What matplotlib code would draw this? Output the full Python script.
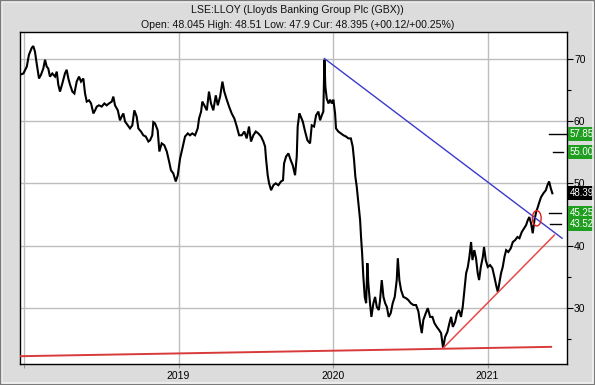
import matplotlib
matplotlib.use("Agg")
import matplotlib.pyplot as plt
from matplotlib.patches import Ellipse, Rectangle
from matplotlib.ticker import MultipleLocator, FixedLocator

plt.rcParams['font.family'] = ['Liberation Sans', 'DejaVu Sans']

title = "LSE:LLOY (Lloyds Banking Group Plc (GBX))"
subtitle = "Open: 48.045 High: 48.51 Low: 47.9 Cur: 48.395 (+00.12/+00.25%)"

# decimal year of each reading
years = [
    2017.974, 2017.996, 2018.018, 2018.032, 2018.050, 2018.060, 2018.071, 2018.082, 2018.097, 2018.110,
    2018.125, 2018.136, 2018.147, 2018.157, 2018.168, 2018.183, 2018.201, 2018.212, 2018.222, 2018.233,
    2018.248, 2018.265, 2018.276, 2018.287, 2018.298, 2018.313, 2018.326, 2018.341, 2018.356, 2018.369,
    2018.384, 2018.395, 2018.406, 2018.421, 2018.434, 2018.449, 2018.460, 2018.471, 2018.485, 2018.503,
    2018.520, 2018.535, 2018.550, 2018.568, 2018.578, 2018.589, 2018.607, 2018.621, 2018.632, 2018.643,
    2018.654, 2018.671, 2018.686, 2018.701, 2018.714, 2018.729, 2018.740, 2018.757, 2018.772, 2018.788,
    2018.805, 2018.816, 2018.830, 2018.837, 2018.848, 2018.865, 2018.876, 2018.891, 2018.908, 2018.924,
    2018.939, 2018.951, 2018.966, 2018.982, 2018.995, 2019.010, 2019.025, 2019.042, 2019.060, 2019.074,
    2019.089, 2019.107, 2019.124, 2019.133, 2019.146, 2019.154, 2019.167, 2019.183, 2019.197, 2019.210,
    2019.225, 2019.241, 2019.254, 2019.269, 2019.284, 2019.296, 2019.312, 2019.327, 2019.344, 2019.361,
    2019.377, 2019.392, 2019.409, 2019.426, 2019.441, 2019.456, 2019.469, 2019.484, 2019.500, 2019.516,
    2019.534, 2019.549, 2019.560, 2019.566, 2019.577, 2019.586, 2019.599, 2019.614, 2019.629, 2019.646,
    2019.663, 2019.676, 2019.683, 2019.696, 2019.711, 2019.726, 2019.739, 2019.754, 2019.765, 2019.771,
    2019.782, 2019.791, 2019.804, 2019.819, 2019.834, 2019.851, 2019.862, 2019.877, 2019.890, 2019.905,
    2019.916, 2019.927, 2019.937, 2019.944, 2019.950, 2019.959, 2019.970, 2019.981, 2019.992, 2020.002,
    2020.013, 2020.019, 2020.034, 2020.050, 2020.067, 2020.084, 2020.099, 2020.115, 2020.127, 2020.136,
    2020.144, 2020.153, 2020.164, 2020.175, 2020.181, 2020.188, 2020.196, 2020.205, 2020.214, 2020.222,
    2020.228, 2020.239, 2020.248, 2020.261, 2020.272, 2020.283, 2020.296, 2020.304, 2020.315, 2020.326,
    2020.337, 2020.348, 2020.360, 2020.373, 2020.386, 2020.399, 2020.412, 2020.419, 2020.429, 2020.440,
    2020.455, 2020.472, 2020.487, 2020.503, 2020.520, 2020.537, 2020.552, 2020.563, 2020.574, 2020.584,
    2020.600, 2020.613, 2020.628, 2020.643, 2020.656, 2020.671, 2020.686, 2020.699, 2020.712, 2020.725,
    2020.740, 2020.753, 2020.764, 2020.775, 2020.790, 2020.802, 2020.815, 2020.828, 2020.839, 2020.850,
    2020.861, 2020.872, 2020.882, 2020.893, 2020.902, 2020.914, 2020.925, 2020.936, 2020.945, 2020.956,
    2020.969, 2020.977, 2020.988, 2021.001, 2021.016, 2021.031, 2021.044, 2021.055, 2021.066, 2021.076,
    2021.087, 2021.098, 2021.109, 2021.120, 2021.134, 2021.150, 2021.163, 2021.178, 2021.193, 2021.206,
    2021.221, 2021.236, 2021.249, 2021.260, 2021.270, 2021.281, 2021.292, 2021.303, 2021.314, 2021.325,
    2021.335, 2021.346, 2021.361, 2021.377, 2021.387, 2021.398, 2021.409, 2021.419,
]

prices = [
    67.4, 67.6, 68.7, 70.6, 71.7, 72.0, 71.1, 69.2, 66.8, 67.4,
    68.4, 69.8, 68.7, 68.4, 67.1, 67.6, 67.1, 67.9, 65.8, 64.7,
    66.0, 67.6, 68.2, 66.8, 65.8, 64.7, 64.4, 66.3, 67.1, 66.3,
    66.8, 64.4, 63.1, 63.3, 62.8, 61.2, 61.7, 62.3, 62.5, 62.3,
    62.8, 62.5, 62.8, 63.1, 63.9, 62.5, 61.7, 60.1, 60.7, 61.2,
    59.9, 59.3, 58.8, 59.3, 61.7, 60.7, 58.8, 58.3, 57.7, 57.5,
    56.7, 56.9, 57.7, 59.8, 59.6, 58.5, 55.1, 56.4, 56.1, 55.1,
    53.5, 52.1, 51.6, 50.3, 51.3, 54.0, 55.6, 57.5, 58.0, 57.7,
    58.0, 57.7, 58.8, 60.4, 61.5, 63.1, 62.5, 61.7, 64.7, 62.8,
    61.7, 64.1, 62.5, 63.9, 66.3, 64.7, 63.4, 62.3, 61.2, 60.4,
    59.1, 57.7, 57.7, 58.3, 57.2, 59.1, 56.7, 57.7, 58.3, 58.0,
    57.5, 56.7, 55.9, 54.0, 51.3, 50.0, 48.9, 49.7, 50.0, 49.7,
    50.3, 50.5, 53.2, 54.3, 54.8, 53.7, 52.9, 51.3, 54.3, 59.1,
    61.2, 60.7, 59.9, 58.3, 56.9, 56.4, 59.3, 59.1, 60.9, 61.5,
    60.1, 60.9, 61.5, 69.8, 65.5, 63.6, 62.8, 63.4, 62.8, 63.4,
    61.2, 58.8, 58.3, 58.0, 57.7, 57.5, 57.2, 57.2, 55.9, 53.7,
    51.1, 49.5, 46.8, 44.1, 41.4, 38.8, 35.0, 31.8, 30.8, 37.2,
    34.0, 30.8, 28.6, 30.8, 31.8, 30.2, 29.7, 31.3, 34.5, 31.8,
    30.8, 30.2, 28.6, 29.2, 30.8, 31.8, 34.5, 38.0, 34.5, 32.9,
    31.8, 31.6, 31.3, 30.8, 30.5, 30.5, 29.5, 27.6, 26.0, 28.1,
    29.2, 30.0, 28.6, 28.6, 27.6, 27.0, 26.5, 26.0, 23.6, 25.4,
    26.2, 27.6, 28.6, 27.0, 27.8, 29.2, 29.7, 28.6, 30.2, 32.9,
    35.6, 36.6, 38.2, 40.6, 37.7, 39.3, 38.0, 35.6, 34.5, 36.6,
    38.2, 39.8, 37.7, 36.6, 36.9, 36.4, 35.0, 33.7, 32.6, 34.0,
    35.6, 36.6, 38.2, 39.3, 39.0, 39.6, 40.6, 40.9, 41.4, 41.2,
    42.2, 42.8, 43.3, 44.1, 44.6, 43.6, 42.0, 44.1, 45.4, 46.2,
    47.0, 47.8, 48.4, 48.9, 49.7, 50.3, 49.2, 48.4,
]

# trend lines: (start year, start value, end year, end value)
blue_line = (2019.944, 70.0, 2021.482, 41.2)
red_base = (2017.971, 22.3, 2021.411, 23.8)
red_rise = (2020.712, 23.6, 2021.432, 41.7)

target_levels = [57.85, 55.00, 45.25, 43.52]
target_labels = ["57.85", "55.00", "45.25", "43.52"]
target_starts = [2021.40, 2021.422, 2021.40, 2021.406]
target_ends = [2021.514, 2021.486, 2021.477, 2021.477]
current_price = 48.39
circle_center = (2021.318, 44.4)

fig = plt.figure(figsize=(5.95, 3.85), dpi=100)
fig.patch.set_facecolor('#dcdcdc')

# bevelled frame
fig.patches.append(Rectangle((0, 0), 1, 1, transform=fig.transFigure,
                             fill=False, ec='#7a7a7a', lw=2.5, zorder=0))
fig.patches.append(Rectangle((0.004, 0.006), 0.992, 0.988, transform=fig.transFigure,
                             fill=False, ec='#f2f2f2', lw=1.2, zorder=0))

ax = fig.add_axes([0.0328, 0.0545, 0.9202, 0.8624])
ax.set_facecolor('white')
ax.set_xlim(2017.971, 2021.514)
ax.set_ylim(21.05, 74.25)

for s in ax.spines.values():
    s.set_color('black')
    s.set_linewidth(1.0)

ax.yaxis.tick_right()
ax.yaxis.set_major_locator(MultipleLocator(10))
ax.yaxis.set_minor_locator(FixedLocator([25, 35, 45, 55, 65]))
ax.tick_params(axis='y', which='major', length=4, width=0.8, labelsize=7.5, pad=1)
ax.tick_params(axis='y', which='minor', length=3, width=0.8)
ax.xaxis.set_major_locator(FixedLocator([2018, 2019, 2020, 2021]))
ax.set_xticklabels(['', '2019', '2020', '2021'])
ax.tick_params(axis='x', length=3, width=0.8, labelsize=7.5, pad=2, color='#999999')
ax.grid(True, which='major', color='#bdbdbd', lw=1.0)
ax.set_axisbelow(True)

ax.plot(years, prices, color='black', lw=1.5, zorder=3, solid_joinstyle='miter')

ax.plot([blue_line[0], blue_line[2]], [blue_line[1], blue_line[3]], color='#3a3acc', lw=1.0, zorder=4)
ax.plot([red_base[0], red_base[2]], [red_base[1], red_base[3]], color='#d83a3a', lw=1.4, zorder=4)
ax.plot([red_rise[0], red_rise[2]], [red_rise[1], red_rise[3]], color='#e84848', lw=1.1, zorder=4)

ax.add_patch(Ellipse(circle_center, 0.057, 2.45, fill=False, ec='#e02020', lw=1.0, zorder=5))

for lvl, lab, x0, x1 in zip(target_levels, target_labels, target_starts, target_ends):
    ax.plot([x0, x1], [lvl, lvl], color='black', lw=1.0, zorder=5, clip_on=False)
    ax.annotate(lab, xy=(1.0, lvl), xycoords=('axes fraction', 'data'),
                xytext=(2, 0), textcoords='offset points', ha='left', va='center',
                color='white', fontsize=7.0,
                bbox=dict(boxstyle='square,pad=0.2', fc='#1f9e1f', ec='none'),
                annotation_clip=False)

ax.annotate(f"{current_price:.2f}", xy=(1.0, current_price), xycoords=('axes fraction', 'data'),
            xytext=(2, 0), textcoords='offset points', ha='left', va='center',
            color='white', fontsize=7.0,
            bbox=dict(boxstyle='square,pad=0.2', fc='black', ec='none'),
            annotation_clip=False)

fig.text(0.5, 0.975, title, ha='center', va='center', fontsize=7.6, color='#111111')
fig.text(0.5, 0.934, subtitle, ha='center', va='center', fontsize=7.6, color='#111111')

fig.savefig('out.png', dpi=100, facecolor=fig.get_facecolor())
